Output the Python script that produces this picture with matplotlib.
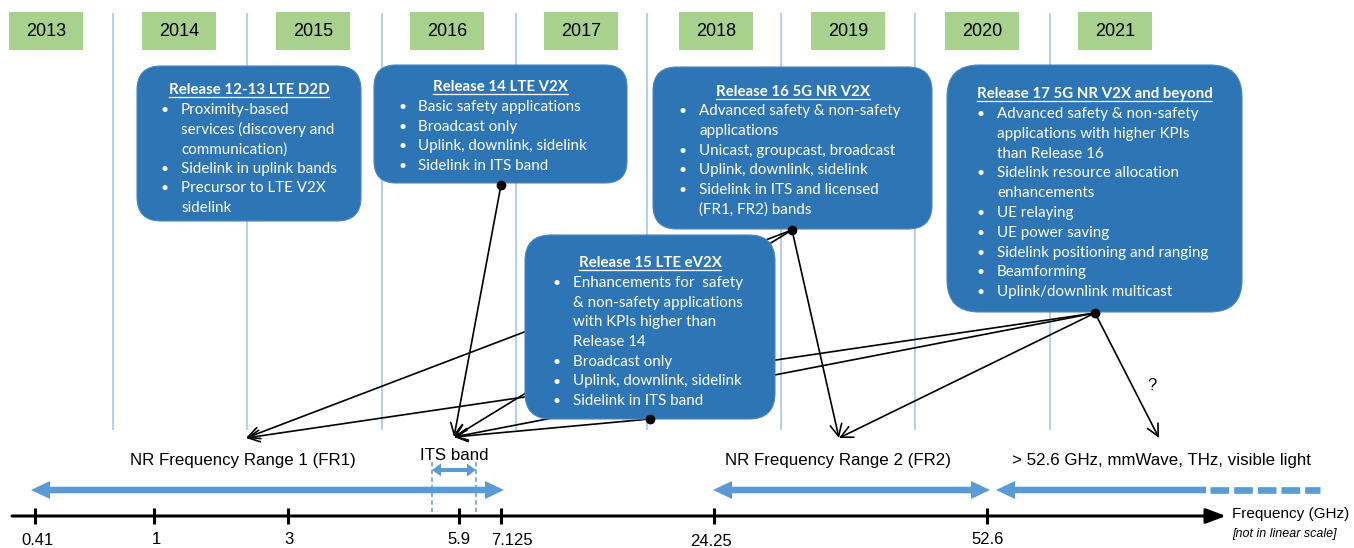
import matplotlib
matplotlib.use('Agg')
import matplotlib.pyplot as plt
from matplotlib.patches import FancyBboxPatch, Polygon

# ---- data ----
years = [2013, 2014, 2015, 2016, 2017, 2018, 2019, 2020, 2021]
freq_labels = ['0.41', '1', '3', '5.9', '7.125', '24.25', '52.6']

band_labels = ['NR Frequency Range 1 (FR1)', 'ITS band',
               'NR Frequency Range 2 (FR2)', '> 52.6 GHz, mmWave, THz, visible light']

release_titles = ['Release 12-13 LTE D2D', 'Release 14 LTE V2X', 'Release 16 5G NR V2X',
                  'Release 17 5G NR V2X and beyond', 'Release 15 LTE eV2X']
release_bullets = [
    ['Proximity-based\nservices (discovery and\ncommunication)', 'Sidelink in uplink bands',
     'Precursor to LTE V2X\nsidelink'],
    ['Basic safety applications', 'Broadcast only', 'Uplink, downlink, sidelink',
     'Sidelink in ITS band'],
    ['Advanced safety & non-safety\napplications', 'Unicast, groupcast, broadcast',
     'Uplink, downlink, sidelink', 'Sidelink in ITS and licensed\n(FR1, FR2) bands'],
    ['Advanced safety & non-safety\napplications with higher KPIs\nthan Release 16',
     'Sidelink resource allocation\nenhancements', 'UE relaying', 'UE power saving',
     'Sidelink positioning and ranging', 'Beamforming', 'Uplink/downlink multicast'],
    ['Enhancements for  safety\n& non-safety applications\nwith KPIs higher than\nRelease 14',
     'Broadcast only', 'Uplink, downlink, sidelink', 'Sidelink in ITS band'],
]

# which release points at which band
links = [('R14', 'ITS'), ('R16', 'FR1'), ('R16', 'ITS'), ('R16', 'FR2'),
         ('R17', 'FR1'), ('R17', 'ITS'), ('R17', 'FR2'), ('R17', 'HI'), ('R15', 'ITS')]

# ---- layout (pixel coordinates) ----
year_x = [46, 179, 313, 447, 581, 716, 848, 982, 1115]
divider_x = [113, 247, 382, 516, 647, 781, 915, 1050]
freq_x = [35, 154, 288, 459, 501, 714, 987]
freq_lab_x = [37, 156, 289, 459, 512, 711, 988]
freq_lab_y = [533, 532, 532, 532, 533, 534, 532]

# x0, y0, x1, y1, title_y, bullet_x, text_x, first_line_y, spacing, radius
boxes = [
    (137, 66, 361, 221, 90, 161, 181, 110, 19.6, 24),
    (374, 65, 627, 183, 87, 398, 418, 107, 19.7, 22),
    (653, 67, 932, 229, 92, 678, 699, 111, 19.8, 24),
    (947, 65, 1242, 312, 94, 977, 997, 114, 19.8, 32),
    (525, 235, 775, 419, 263, 553, 573, 283, 19.7, 26),
]
sources = {'R14': (501, 185), 'R16': (792, 230), 'R17': (1095, 313), 'R15': (650, 419)}
targets = {'FR1': (246, 438), 'ITS': (454, 437), 'FR2': (839, 438), 'HI': (1159, 438)}
band_lab_pos = [(243, 460), (454, 455), (838, 461), (1161, 460)]

BOX_BLUE = '#2E75B6'
ARROW_BLUE = '#5B9BD5'
GREEN = '#A9D18E'
LINE_BLUE = '#9DC3E6'

fig = plt.figure(figsize=(13.54, 5.48), dpi=100)
ax = fig.add_axes([0, 0, 1, 1])
ax.set_xlim(0, 1354)
ax.set_ylim(548, 0)
ax.axis('off')

arial = 'Liberation Sans'
body = 'Lato'

# year boxes and divider lines
for x, yr in zip(year_x, years):
    ax.add_patch(plt.Rectangle((x - 37, 12), 74, 38, color=GREEN, lw=0, zorder=1))
    ax.text(x, 31, str(yr), ha='center', va='center', fontsize=13, family=arial, zorder=5)
ax.vlines(divider_x, 13, 430, color=LINE_BLUE, lw=1.1, zorder=0)

# black pointer arrows (behind the boxes)
for s, t in links:
    ax.annotate('', xy=targets[t], xytext=sources[s],
                arrowprops=dict(arrowstyle='->,head_length=0.85,head_width=0.42',
                                lw=1.2, color='black', shrinkA=0, shrinkB=0), zorder=2)
ax.text(1152, 386, '?', ha='center', va='center', fontsize=12, family=arial)

# release boxes
fig.canvas.draw()
renderer = fig.canvas.get_renderer()
for (x0, y0, x1, y1, ty, bx, tx, ly, sp, rad), title, bullets in zip(boxes, release_titles, release_bullets):
    ax.add_patch(FancyBboxPatch((x0, y0), x1 - x0, y1 - y0,
                                boxstyle='round,pad=0,rounding_size=%d' % rad,
                                fc=BOX_BLUE, ec='#4A86C0', lw=0.8, zorder=3))
    t = ax.text((x0 + x1) / 2, ty, title, ha='center', va='center', color='white',
                fontsize=10.8, fontweight='bold', family=body, zorder=5)
    bb = t.get_window_extent(renderer).transformed(ax.transData.inverted())
    ax.plot([bb.x0, bb.x1], [ty + 7, ty + 7], color='white', lw=0.9, zorder=5)
    i = 0
    for item in bullets:
        for j, line in enumerate(item.split('\n')):
            y = ly + i * sp
            if j == 0:
                ax.text(bx, y, '\u2022', ha='left', va='center', color='white',
                        fontsize=10, family=body, zorder=5)
            ax.text(tx, y, line, ha='left', va='center', color='white',
                    fontsize=10.9, family=body, zorder=5)
            i += 1

# source dots
for s in sources.values():
    ax.plot(*s, 'o', color='black', ms=6, zorder=6)

# band labels
for (x, y), lab in zip(band_lab_pos, band_labels):
    ax.text(x, y, lab, ha='center', va='center', fontsize=12.2, family=arial)


def band_arrow(x0, x1, y, shaft, head_h, head_l, left=True, right=True):
    pts = []
    if left:
        pts += [(x0, y), (x0 + head_l, y - head_h), (x0 + head_l, y - shaft)]
    else:
        pts += [(x0, y + shaft), (x0, y - shaft)]
    if right:
        pts += [(x1 - head_l, y - shaft), (x1 - head_l, y - head_h), (x1, y),
                (x1 - head_l, y + head_h), (x1 - head_l, y + shaft)]
    else:
        pts += [(x1, y - shaft), (x1, y + shaft)]
    if left:
        pts += [(x0 + head_l, y + shaft), (x0 + head_l, y + head_h)]
    ax.add_patch(Polygon(pts, closed=True, fc=ARROW_BLUE, ec='none', zorder=2))


band_arrow(31, 504, 490, 3.3, 9, 19)
band_arrow(713, 990, 490, 3.3, 9, 19)
band_arrow(996, 1206, 490, 3.3, 9, 19, right=False)
ax.plot([1210, 1320], [490, 490], color=ARROW_BLUE, lw=4.8,
        linestyle=(0, (2.8, 0.75)), dash_capstyle='butt', zorder=2)
band_arrow(432, 476, 470, 2, 6.5, 9)
ax.vlines([432, 476], 462, 512, color=ARROW_BLUE, lw=1.1, linestyles=(0, (3, 2)), zorder=2)

# frequency axis
ax.annotate('', xy=(1226, 516), xytext=(12, 516),
            arrowprops=dict(arrowstyle='-|>,head_length=1.2,head_width=0.45',
                            lw=2.2, color='black', shrinkA=0, shrinkB=0))
ax.vlines(freq_x, 508, 524, color='black', lw=2.2)
for x, y, lab in zip(freq_lab_x, freq_lab_y, freq_labels):
    ax.text(x, y, lab, ha='center', va='top', fontsize=12, family=arial)
ax.text(1232, 514, 'Frequency (GHz)', ha='left', va='center', fontsize=11, family=arial)
ax.text(1232, 534, '[not in linear scale]', ha='left', va='center', fontsize=9,
        style='italic', family=arial)

fig.savefig('out.png', dpi=100)
